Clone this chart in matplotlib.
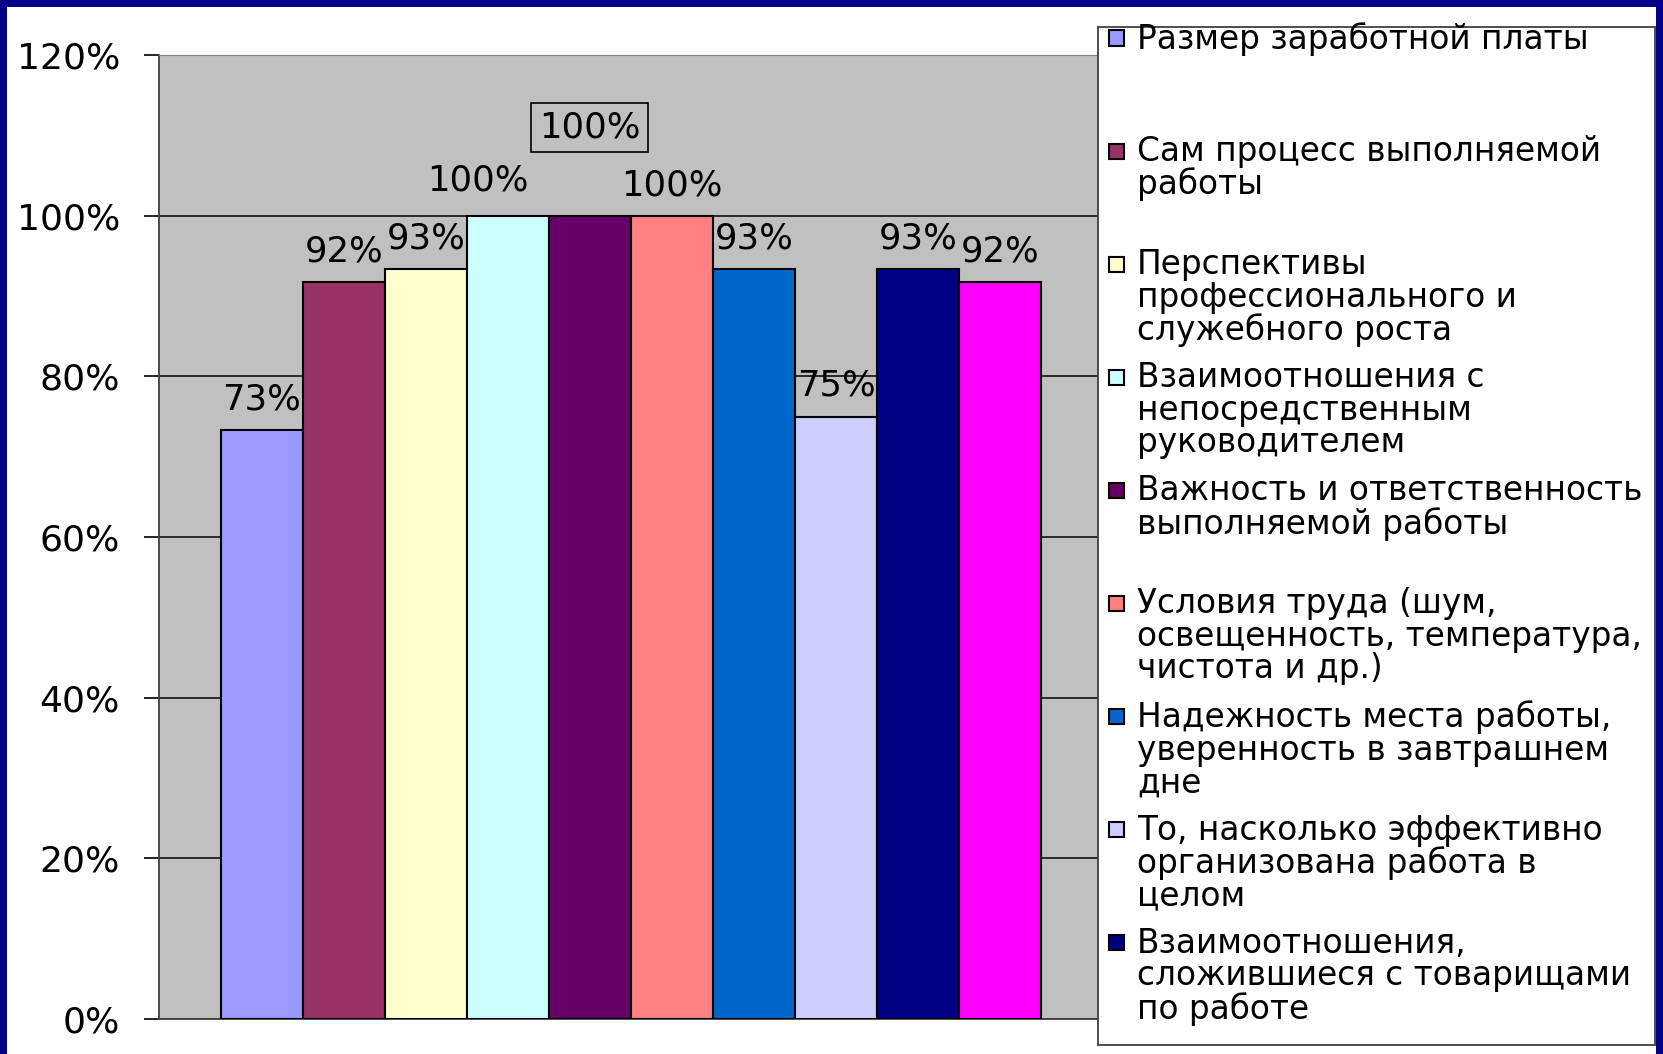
"""
Bar chart of job satisfaction factors (share of respondents).

Rebuilds an Excel-style clustered bar chart with a boxed legend
on the right and a navy slide border round the figure.
"""

import matplotlib.pyplot as plt
from matplotlib.patches import Rectangle
from matplotlib.ticker import FuncFormatter


# Data
factors = [
    "Размер заработной платы",
    "Сам процесс выполняемой\nработы",
    "Перспективы\nпрофессионального и\nслужебного роста",
    "Взаимоотношения с\nнепосредственным\nруководителем",
    "Важность и ответственность\nвыполняемой работы",
    "Условия труда (шум,\nосвещенность, температура,\nчистота и др.)",
    "Надежность места работы,\nуверенность в завтрашнем\nдне",
    "То, насколько эффективно\nорганизована работа в\nцелом",
    "Взаимоотношения,\nсложившиеся с товарищами\nпо работе",
]
shares = [0.733, 0.917, 0.933, 1.0, 1.0, 1.0, 0.933, 0.75, 0.933, 0.917]
y_ticks = [0.0, 0.2, 0.4, 0.6, 0.8, 1.0, 1.2]

# Excel 2003 default series palette
colors = ["#9999FF", "#993366", "#FFFFCC", "#CCFFFF", "#660066",
          "#FF8080", "#0066CC", "#CCCCFF", "#000080", "#FF00FF"]

FONT = "DejaVu Sans"
W, H = 1663, 1054


def fx(px):
    return px / W


def fy(py):
    return 1 - py / H


def plot_chart(path="out.png"):
    plt.rcParams["font.family"] = FONT
    fig = plt.figure(figsize=(W / 100, H / 100), dpi=100)
    fig.patch.set_facecolor("white")

    ax = fig.add_axes([fx(159), fy(1019), fx(1103 - 159), (1019 - 55) / H])
    ax.set_facecolor("#C0C0C0")

    x = list(range(len(shares)))
    ax.bar(x, shares, width=1.0, color=colors,
           edgecolor="black", linewidth=1.5, zorder=3)

    # data labels
    for i, v in enumerate(shares):
        dx, y, box = 0.0, v + 0.038, None
        if i == 3:
            dx, y = -0.36, 1.0435
        elif i == 4:
            y = 1.1095
            box = dict(boxstyle="square,pad=0.22", fc="none",
                       ec="black", lw=1.2)
        elif i == 5:
            y = 1.037
        ax.text(i + dx, y, f"{v:.0%}", ha="center", va="center",
                fontsize=25.5, color="black", bbox=box, zorder=4)

    ax.set_xlim(-1.25, 10.25)
    ax.set_ylim(0, 1.2)
    ax.set_yticks(y_ticks)
    ax.yaxis.set_major_formatter(FuncFormatter(lambda v, _: f"{v:.0%}"))
    ax.tick_params(axis="y", labelsize=26, length=11, width=1.2,
                   direction="out", pad=17)
    ax.set_xticks([])
    ax.grid(axis="y", color="black", linewidth=1.1, zorder=1)

    ax.spines["top"].set_color("#808080")
    ax.spines["right"].set_visible(False)
    ax.spines["left"].set_color("#404040")
    ax.spines["bottom"].set_color("#404040")
    ax.spines["left"].set_linewidth(1.3)
    ax.spines["bottom"].set_linewidth(1.3)

    # legend box drawn by hand so every entry gets the same slot
    fig.add_artist(Rectangle((fx(1098), fy(1045)), fx(1655 - 1098),
                             (1045 - 27) / H, transform=fig.transFigure,
                             fc="white", ec="#404040", lw=1.3, zorder=5))
    for i, label in enumerate(factors):
        cy = 38 + i * 113.1
        fig.add_artist(Rectangle((fx(1109), fy(cy + 7.5)), fx(15), 15 / H,
                                 transform=fig.transFigure, fc=colors[i],
                                 ec="black", lw=1.5, zorder=6))
        fig.text(fx(1137), fy(cy - 16), label, ha="left", va="top",
                 fontsize=23.6, linespacing=0.98, color="black", zorder=6)

    # navy slide border
    b = 7
    for rect in [(0, 0, b, H), (0, 0, W, b), (W - b, 0, b, H)]:
        x0, y0, w, h = rect
        fig.add_artist(Rectangle((fx(x0), fy(y0 + h)), fx(w), h / H,
                                 transform=fig.transFigure, fc="#000088",
                                 ec="none", zorder=7))

    fig.savefig(path, dpi=100)
    plt.close(fig)


if __name__ == "__main__":
    plot_chart()
